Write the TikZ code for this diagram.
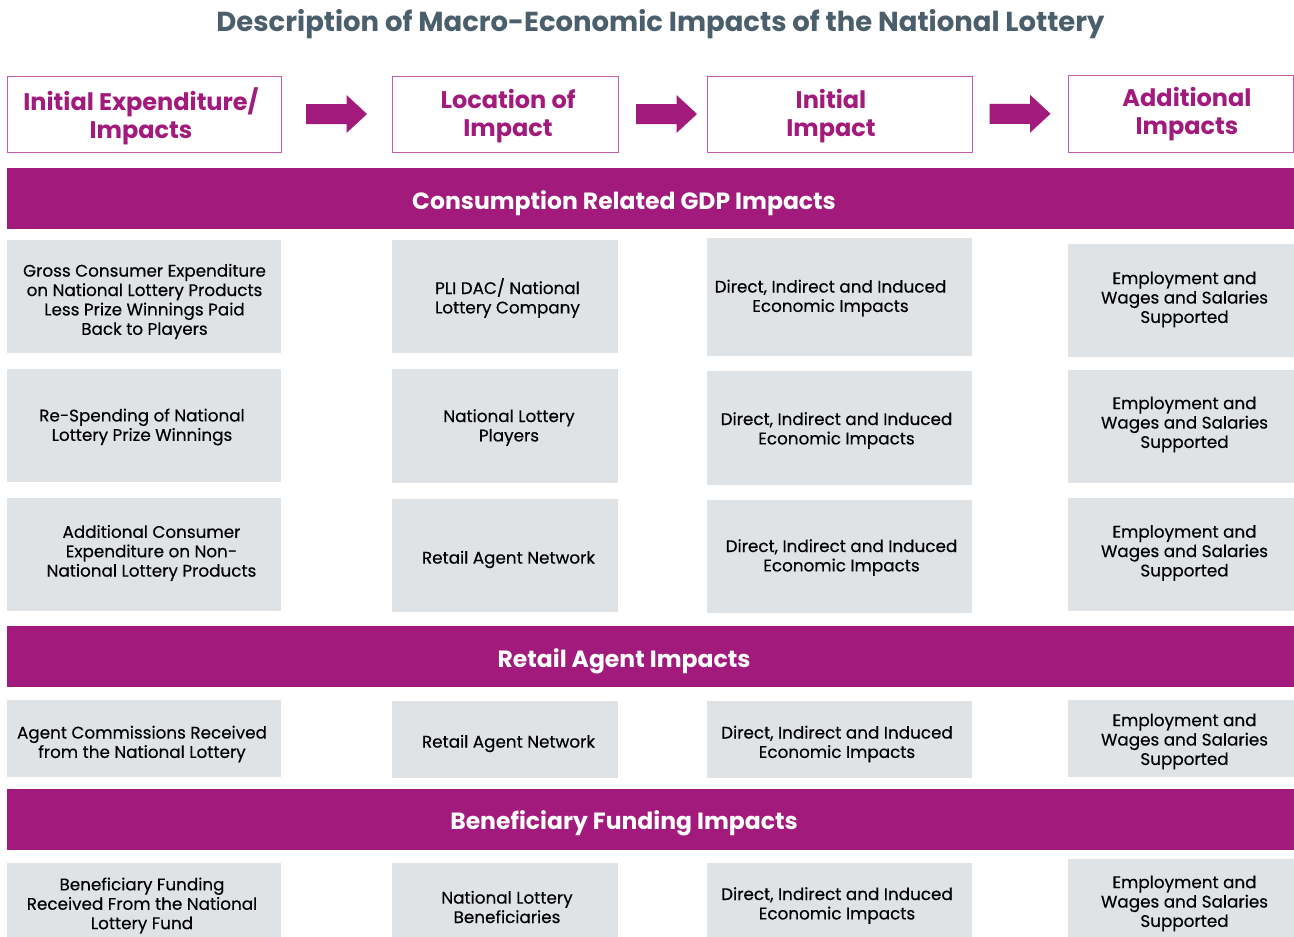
\documentclass[tikz,border=0pt]{standalone}
\usepackage{fontspec}
\setmainfont{Poppins}
\newfontfamily\cellfont{Poppins}[FakeBold=0.4]
\usetikzlibrary{calc}
\definecolor{lotmag}{RGB}{162,26,123}
\definecolor{hdrline}{RGB}{196,92,168}
\definecolor{cellgrey}{RGB}{224,227,230}
\definecolor{titleslate}{RGB}{74,94,107}
% grey cell: name, x, y, width, height, text dx, text dy, text
\newcommand\gridcell[8]{%
  \node[cell, minimum width=#4pt, minimum height=#5pt] (#1) at (#2,#3) {};
  \node[celltext] (#1t) at ($(#1)+(#6,#7)$) {#8};}
% block arrow centred on a coordinate
\newcommand\blockarrow[1]{%
  \fill[lotmag] ($(#1)+(-30.5,-10)$) -- ($(#1)+(10,-10)$) -- ($(#1)+(10,-19)$)
    -- ($(#1)+(30.5,0)$) -- ($(#1)+(10,19)$) -- ($(#1)+(10,10)$)
    -- ($(#1)+(-30.5,10)$) -- cycle;}
\begin{document}
\begin{tikzpicture}[x=1pt,y=-1pt,
  hdr/.style={draw=hdrline, line width=1pt, fill=white, inner sep=0pt},
  hdrtext/.style={text=lotmag, align=center, inner sep=0pt,
    font=\bfseries\fontsize{24}{28}\selectfont},
  band/.style={fill=lotmag, inner sep=0pt, minimum width=1287pt, minimum height=61pt},
  bandtext/.style={text=white, inner sep=0pt, font=\bfseries\fontsize{23.5}{28}\selectfont},
  cell/.style={fill=cellgrey, inner sep=0pt},
  celltext/.style={align=center, inner sep=0pt, text=black,
    font=\cellfont\fontsize{16.8}{19.4}\selectfont}
]
\useasboundingbox (0,0) rectangle (1294,937);

% title
\node[text=titleslate, font=\bfseries\fontsize{27.5}{30}\selectfont] (title) at (660.5,24)
  {Description of Macro-Economic Impacts of the National Lottery};

% column headers
\node[hdr, minimum width=274pt, minimum height=76pt] (h1) at (144,114) {};
\node[hdrtext] (h1t) at (141,116) {Initial Expenditure/\\Impacts};
\node[hdr, minimum width=226pt, minimum height=76pt] (h2) at (505,114) {};
\node[hdrtext] (h2t) at (508,116) {Location of\\Impact};
\node[hdr, minimum width=265pt, minimum height=76pt] (h3) at (839.5,114) {};
\node[hdrtext] (h3t) at (831,116) {Initial\\Impact};
\node[hdr, minimum width=225pt, minimum height=77pt] (h4) at (1180.5,113.5) {};
\node[hdrtext] (h4t) at (1187,114) {Additional\\Impacts};

% block arrows between headers
\coordinate (m1) at ($(h1.east)!0.5!(h2.west)$);
\coordinate (m2) at ($(h2.east)!0.5!(h3.west)+(4,0)$);
\coordinate (m3) at ($(h3.east)!0.5!(h4.west)$);
\blockarrow{m1}
\blockarrow{m2}
\blockarrow{m3}

% section bands
\node[band] (b1) at (650.5,198.5) {};
\node[bandtext] (b1t) at (624,203) {Consumption Related GDP Impacts};
\node[band] (b2) at (650.5,656.5) {};
\node[bandtext] (b2t) at (624,661) {Retail Agent Impacts};
\node[band] (b3) at (650.5,819.5) {};
\node[bandtext] (b3t) at (624,823.5) {Beneficiary Funding Impacts};

% consumption related rows
\gridcell{c11}{144}{296.5}{274}{113}{0.5}{5}
  {Gross Consumer Expenditure\\on National Lottery Products\\Less Prize Winnings Paid\\Back to Players}
\gridcell{c12}{505}{296.5}{226}{113}{2.5}{1.5}{PLI DAC/ National\\Lottery Company}
\gridcell{c13}{839.5}{297}{265}{118}{-9}{1}{Direct, Indirect and Induced\\Economic Impacts}
\gridcell{c14}{1181}{300.5}{226}{113}{3.5}{-1}{Employment and\\Wages and Salaries\\Supported}

\gridcell{c21}{144}{425.5}{274}{113}{-2}{1.5}{Re-Spending of National\\Lottery Prize Winnings}
\gridcell{c22}{505}{426}{226}{114}{4}{1.5}{National Lottery\\Players}
\gridcell{c23}{839.5}{428}{265}{114}{-3}{2.5}{Direct, Indirect and Induced\\Economic Impacts}
\gridcell{c24}{1181}{426.5}{226}{113}{3.5}{-2}{Employment and\\Wages and Salaries\\Supported}

\gridcell{c31}{144}{554.5}{274}{113}{7.5}{-1.5}
  {Additional Consumer\\Expenditure on Non-\\National Lottery Products}
\gridcell{c32}{505}{555.5}{226}{113}{3.5}{4}{Retail Agent Network}
\gridcell{c33}{839.5}{556.5}{265}{113}{2}{1}{Direct, Indirect and Induced\\Economic Impacts}
\gridcell{c34}{1181}{554.5}{226}{113}{3.5}{-1.5}{Employment and\\Wages and Salaries\\Supported}

% retail agent row
\gridcell{c41}{144}{738.5}{274}{77}{-2}{5.5}{Agent Commissions Received\\from the National Lottery}
\gridcell{c42}{505}{739.5}{226}{77}{3.5}{4}{Retail Agent Network}
\gridcell{c43}{839.5}{739.5}{265}{77}{-2.5}{4.5}{Direct, Indirect and Induced\\Economic Impacts}
\gridcell{c44}{1181}{738.5}{226}{77}{3.5}{3}{Employment and\\Wages and Salaries\\Supported}

% beneficiary funding row
\gridcell{c51}{144}{900}{274}{74}{-2}{5.5}
  {Beneficiary Funding\\Received From the National\\Lottery Fund}
\gridcell{c52}{505}{900}{226}{74}{2}{7}{National Lottery\\Beneficiaries}
\gridcell{c53}{839.5}{900}{265}{74}{-2.5}{5.5}{Direct, Indirect and Induced\\Economic Impacts}
\gridcell{c54}{1181}{898}{226}{78}{3.5}{5.5}{Employment and\\Wages and Salaries\\Supported}
\end{tikzpicture}
\end{document}
